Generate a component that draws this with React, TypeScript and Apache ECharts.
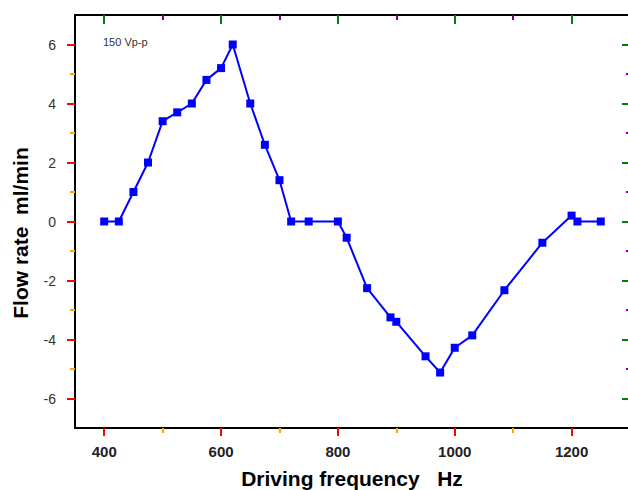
import React, { useEffect, useRef } from "react";
import * as echarts from "echarts";

const frequency = [400, 425, 450, 475, 500, 525, 550, 575, 600, 620, 650, 675, 700, 720, 750, 800, 815, 850, 890, 900, 950, 975, 1000, 1030, 1085, 1150, 1200, 1210, 1250];
const flowRate = [0, 0, 1.0, 2.0, 3.4, 3.7, 4.0, 4.8, 5.2, 6.0, 4.0, 2.6, 1.4, 0, 0, 0, -0.55, -2.26, -3.25, -3.4, -4.57, -5.12, -4.28, -3.86, -2.33, -0.72, 0.2, 0, 0];

const xMajorTicks = [400, 600, 800, 1000, 1200];
const xMinorTicks = [500, 700, 900, 1100];
const yMajorTicks = [-6, -4, -2, 0, 2, 4, 6];
const yMinorTicks = [-5, -3, -1, 1, 3, 5];

const xTitle = "Driving frequency   Hz";
const yTitle = "Flow rate  ml/min";
const annotation = "150 Vp-p";

const FONT = "'Liberation Sans', Arial, sans-serif";

export default function App() {
  const ref = useRef<HTMLDivElement>(null);

  useEffect(() => {
    if (!ref.current) return;
    const chart = echarts.init(ref.current, undefined, { renderer: "svg" });

    const lineOn = { show: true, onZero: false, lineStyle: { color: "#000", width: 2 } };
    const lineOff = { show: false, onZero: false };

    const makeX = (gridIndex: number, position: "top" | "bottom", ticks: number[], len: number, inside: boolean, showLine: boolean, labels: boolean, color: string) => ({
      type: "value",
      gridIndex,
      position,
      min: 350,
      max: 1300,
      axisLine: showLine ? lineOn : lineOff,
      axisTick: { show: true, customValues: ticks, length: len, inside, lineStyle: { color, width: 2 } },
      axisLabel: labels
        ? { show: true, customValues: ticks, margin: 16, color: "#222", fontFamily: FONT, fontSize: 15, fontWeight: "bold", formatter: (v: number) => String(v) }
        : { show: false },
      splitLine: { show: false },
    });

    const makeY = (gridIndex: number, position: "left" | "right", ticks: number[], len: number, inside: boolean, showLine: boolean, labels: boolean, color: string) => ({
      type: "value",
      gridIndex,
      position,
      min: -7,
      max: 7,
      axisLine: showLine ? lineOn : lineOff,
      axisTick: { show: true, customValues: ticks, length: len, inside, lineStyle: { color, width: 2 } },
      axisLabel: labels
        ? { show: true, customValues: ticks, margin: 19, color: "#333", fontFamily: FONT, fontSize: 14, formatter: (v: number) => String(v) }
        : { show: false },
      splitLine: { show: false },
    });

    const gridBox = { left: 75, top: 15, width: 555, height: 413, containLabel: false, outerBoundsMode: "none" };

    chart.setOption({
      animation: false,
      grid: [gridBox, gridBox],
      xAxis: [
        makeX(0, "bottom", xMajorTicks, 8, false, true, true, "red"),
        makeX(0, "top", xMajorTicks, 9, true, true, false, "green"),
        makeX(1, "bottom", xMinorTicks, 5, false, false, false, "orange"),
        makeX(1, "top", xMinorTicks, 5, true, false, false, "purple"),
      ],
      yAxis: [
        makeY(0, "left", yMajorTicks, 8, false, true, true, "red"),
        makeY(0, "right", yMajorTicks, 8, true, true, false, "green"),
        makeY(1, "left", yMinorTicks, 5, false, false, false, "orange"),
        makeY(1, "right", yMinorTicks, 4, true, false, false, "purple"),
      ],
      series: [
        {
          type: "line",
          xAxisIndex: 0,
          yAxisIndex: 0,
          data: frequency.map((f, i) => [f, flowRate[i]]),
          symbol: "rect",
          symbolSize: 8,
          lineStyle: { color: "#0000ff", width: 2 },
          itemStyle: { color: "#0000ff" },
          z: 5,
        },
      ],
      graphic: [
        {
          type: "text",
          x: 352,
          y: 478,
          style: { text: xTitle, font: `bold 21px ${FONT}`, fill: "#000", textAlign: "center", textVerticalAlign: "middle" },
        },
        {
          type: "text",
          x: 20,
          y: 233,
          rotation: Math.PI / 2,
          style: { text: yTitle, font: `bold 21px ${FONT}`, fill: "#000", textAlign: "center", textVerticalAlign: "middle" },
        },
        {
          type: "text",
          x: 103,
          y: 42,
          style: { text: annotation, font: `11px ${FONT}`, fill: "#333", textAlign: "left", textVerticalAlign: "middle" },
        },
      ],
    });

    return () => chart.dispose();
  }, []);

  return <div ref={ref} style={{ position: "fixed", left: 0, top: 0, width: 628, height: 490, background: "#fff" }} />;
}
